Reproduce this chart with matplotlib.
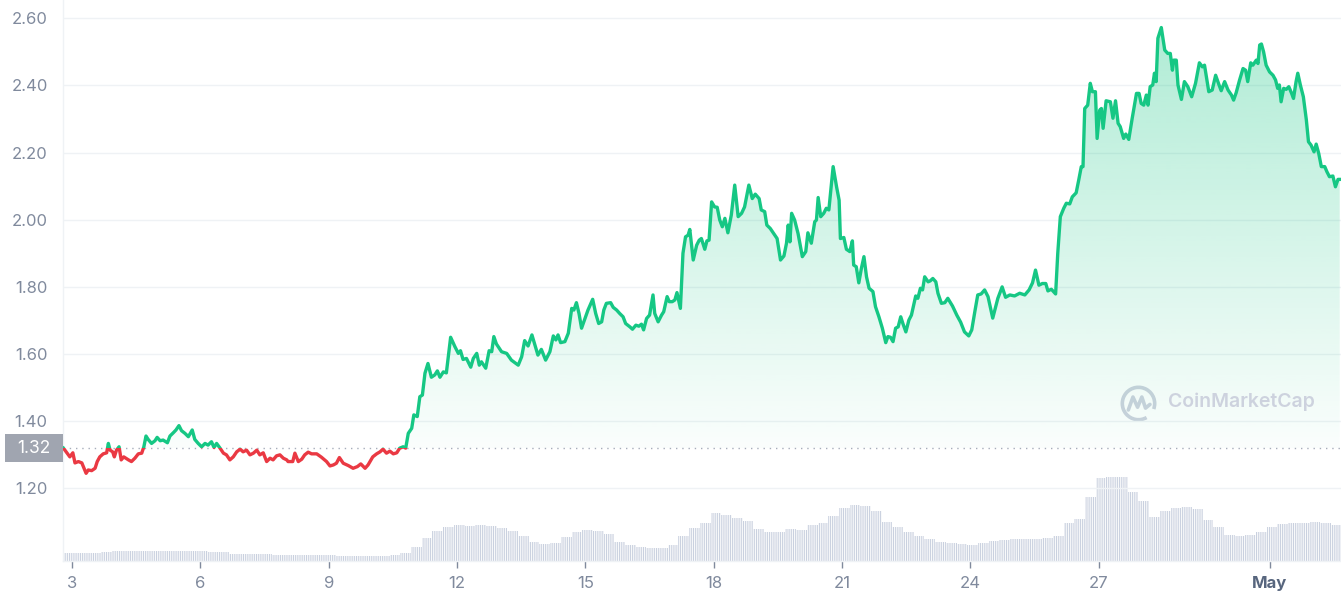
import numpy as np
import matplotlib
matplotlib.use("Agg")
import matplotlib.pyplot as plt
from matplotlib.colors import to_rgb
from matplotlib.patches import Rectangle, Arc
from matplotlib.transforms import blended_transform_factory

plt.rcParams['font.family'] = ['Inter', 'DejaVu Sans']
plt.rcParams['hatch.linewidth'] = 0.7

# price in USD, x = day counted from April 1 (31 = May 1)
days = [
    2.80, 2.88, 2.95, 3.02, 3.07, 3.15, 3.23, 3.33, 3.38, 3.46,
    3.54, 3.59, 3.65, 3.73, 3.81, 3.85, 3.89, 3.95, 3.99, 4.04,
    4.10, 4.15, 4.21, 4.32, 4.39, 4.47, 4.55, 4.63, 4.68, 4.73,
    4.78, 4.86, 4.94, 4.99, 5.06, 5.13, 5.23, 5.29, 5.37, 5.43,
    5.50, 5.56, 5.64, 5.72, 5.81, 5.87, 5.95, 6.03, 6.11, 6.18,
    6.26, 6.32, 6.38, 6.46, 6.54, 6.61, 6.69, 6.77, 6.85, 6.93,
    7.00, 7.08, 7.16, 7.24, 7.32, 7.39, 7.47, 7.55, 7.63, 7.70,
    7.78, 7.86, 7.94, 8.02, 8.05, 8.16, 8.21, 8.29, 8.37, 8.44,
    8.52, 8.60, 8.72, 8.83, 8.95, 9.03, 9.11, 9.18, 9.25, 9.34,
    9.46, 9.57, 9.67, 9.75, 9.85, 9.92, 10.03, 10.12, 10.20, 10.27,
    10.35, 10.43, 10.51, 10.59, 10.66, 10.74, 10.80, 10.86, 10.94, 10.99,
    11.07, 11.13, 11.19, 11.25, 11.32, 11.40, 11.48, 11.54, 11.60, 11.68,
    11.75, 11.85, 11.95, 12.03, 12.08, 12.14, 12.22, 12.32, 12.38, 12.46,
    12.52, 12.57, 12.67, 12.75, 12.81, 12.86, 12.92, 13.04, 13.16, 13.27,
    13.43, 13.51, 13.58, 13.66, 13.75, 13.82, 13.89, 13.97, 14.07, 14.17,
    14.25, 14.31, 14.36, 14.42, 14.52, 14.60, 14.68, 14.73, 14.79, 14.85,
    14.91, 14.99, 15.06, 15.17, 15.24, 15.31, 15.38, 15.43, 15.49, 15.59,
    15.65, 15.73, 15.80, 15.88, 15.94, 16.04, 16.10, 16.18, 16.25, 16.31,
    16.36, 16.43, 16.50, 16.58, 16.62, 16.70, 16.78, 16.83, 16.91, 16.96,
    17.03, 17.09, 17.14, 17.22, 17.28, 17.34, 17.40, 17.44, 17.52, 17.60,
    17.66, 17.71, 17.79, 17.84, 17.89, 17.95, 18.02, 18.08, 18.14, 18.20,
    18.26, 18.33, 18.41, 18.49, 18.57, 18.65, 18.72, 18.82, 18.90, 18.97,
    19.06, 19.11, 19.19, 19.24, 19.32, 19.40, 19.48, 19.56, 19.64, 19.70,
    19.74, 19.78, 19.82, 19.89, 19.97, 20.07, 20.15, 20.20, 20.28, 20.36,
    20.40, 20.44, 20.50, 20.57, 20.63, 20.69, 20.79, 20.87, 20.93, 20.96,
    21.04, 21.10, 21.18, 21.24, 21.27, 21.33, 21.39, 21.45, 21.51, 21.57,
    21.63, 21.72, 21.78, 21.86, 21.94, 22.02, 22.07, 22.13, 22.19, 22.25,
    22.31, 22.37, 22.42, 22.49, 22.56, 22.62, 22.72, 22.77, 22.83, 22.88,
    22.93, 23.01, 23.06, 23.12, 23.19, 23.24, 23.32, 23.40, 23.47, 23.58,
    23.68, 23.77, 23.86, 23.96, 24.03, 24.10, 24.17, 24.25, 24.33, 24.41,
    24.52, 24.64, 24.74, 24.82, 24.92, 25.03, 25.15, 25.27, 25.37, 25.45,
    25.52, 25.60, 25.68, 25.76, 25.81, 25.89, 25.99, 26.04, 26.10, 26.18,
    26.24, 26.32, 26.38, 26.47, 26.53, 26.59, 26.63, 26.67, 26.74, 26.80,
    26.85, 26.92, 26.96, 27.02, 27.06, 27.10, 27.17, 27.27, 27.33, 27.39,
    27.45, 27.50, 27.58, 27.63, 27.70, 27.78, 27.88, 27.94, 27.99, 28.05,
    28.11, 28.15, 28.20, 28.26, 28.30, 28.34, 28.38, 28.46, 28.54, 28.61,
    28.67, 28.72, 28.75, 28.81, 28.85, 28.93, 29.00, 29.08, 29.17, 29.26,
    29.35, 29.42, 29.47, 29.57, 29.65, 29.73, 29.81, 29.86, 29.94, 30.02,
    30.10, 30.15, 30.21, 30.29, 30.37, 30.43, 30.48, 30.55, 30.60, 30.68,
    30.72, 30.76, 30.80, 30.85, 30.91, 30.99, 31.07, 31.13, 31.18, 31.22,
    31.26, 31.32, 31.38, 31.44, 31.50, 31.55, 31.61, 31.65, 31.71, 31.78,
    31.85, 31.90, 31.96, 32.03, 32.08, 32.14, 32.20, 32.28, 32.33, 32.39,
    32.47, 32.53, 32.59, 32.63,
]
prices = [
    1.320, 1.306, 1.294, 1.306, 1.276, 1.280, 1.276, 1.245, 1.255, 1.253,
    1.260, 1.280, 1.294, 1.303, 1.306, 1.334, 1.314, 1.309, 1.294, 1.314,
    1.324, 1.285, 1.294, 1.285, 1.280, 1.290, 1.303, 1.305, 1.324, 1.356,
    1.346, 1.334, 1.342, 1.352, 1.342, 1.344, 1.336, 1.356, 1.366, 1.374,
    1.387, 1.372, 1.364, 1.354, 1.374, 1.346, 1.334, 1.324, 1.334, 1.329,
    1.339, 1.322, 1.334, 1.320, 1.305, 1.300, 1.285, 1.294, 1.309, 1.317,
    1.309, 1.314, 1.300, 1.305, 1.314, 1.300, 1.306, 1.280, 1.290, 1.285,
    1.297, 1.300, 1.290, 1.285, 1.280, 1.280, 1.305, 1.280, 1.287, 1.300,
    1.308, 1.303, 1.303, 1.293, 1.280, 1.267, 1.270, 1.275, 1.292, 1.275,
    1.268, 1.260, 1.265, 1.273, 1.260, 1.270, 1.294, 1.303, 1.309, 1.317,
    1.305, 1.311, 1.303, 1.306, 1.320, 1.324, 1.320, 1.364, 1.379, 1.419,
    1.414, 1.473, 1.478, 1.543, 1.572, 1.531, 1.538, 1.550, 1.531, 1.547,
    1.544, 1.650, 1.622, 1.602, 1.610, 1.584, 1.587, 1.561, 1.587, 1.602,
    1.567, 1.577, 1.558, 1.610, 1.607, 1.652, 1.630, 1.607, 1.602, 1.582,
    1.567, 1.592, 1.640, 1.624, 1.657, 1.627, 1.597, 1.614, 1.582, 1.607,
    1.654, 1.642, 1.657, 1.634, 1.637, 1.662, 1.736, 1.731, 1.753, 1.721,
    1.677, 1.706, 1.731, 1.763, 1.721, 1.691, 1.696, 1.731, 1.751, 1.753,
    1.739, 1.731, 1.721, 1.711, 1.691, 1.681, 1.674, 1.686, 1.683, 1.689,
    1.672, 1.706, 1.716, 1.776, 1.721, 1.696, 1.716, 1.726, 1.771, 1.756,
    1.756, 1.761, 1.783, 1.736, 1.900, 1.949, 1.954, 1.971, 1.880, 1.924,
    1.939, 1.944, 1.912, 1.937, 1.939, 2.053, 2.038, 2.037, 1.999, 1.979,
    2.004, 1.961, 2.014, 2.103, 2.009, 2.019, 2.038, 2.103, 2.063, 2.076,
    2.063, 2.029, 2.024, 1.984, 1.974, 1.959, 1.944, 1.880, 1.892, 1.930,
    1.984, 1.934, 2.019, 1.999, 1.959, 1.890, 1.905, 1.961, 1.930, 1.994,
    1.999, 2.066, 2.009, 2.019, 2.034, 2.029, 2.158, 2.098, 2.058, 1.944,
    1.947, 1.912, 1.905, 1.937, 1.865, 1.860, 1.812, 1.855, 1.890, 1.830,
    1.796, 1.786, 1.741, 1.711, 1.677, 1.634, 1.652, 1.650, 1.637, 1.677,
    1.681, 1.711, 1.691, 1.666, 1.701, 1.716, 1.773, 1.766, 1.796, 1.791,
    1.830, 1.815, 1.818, 1.825, 1.815, 1.781, 1.751, 1.753, 1.766, 1.743,
    1.716, 1.695, 1.666, 1.654, 1.672, 1.725, 1.776, 1.779, 1.791, 1.771,
    1.707, 1.766, 1.800, 1.769, 1.776, 1.773, 1.781, 1.776, 1.791, 1.812,
    1.850, 1.805, 1.810, 1.810, 1.788, 1.793, 1.779, 1.900, 2.009, 2.034,
    2.049, 2.047, 2.068, 2.080, 2.118, 2.158, 2.158, 2.331, 2.341, 2.406,
    2.381, 2.381, 2.242, 2.326, 2.331, 2.272, 2.354, 2.351, 2.302, 2.354,
    2.287, 2.277, 2.242, 2.255, 2.239, 2.302, 2.376, 2.376, 2.346, 2.341,
    2.371, 2.341, 2.396, 2.401, 2.436, 2.411, 2.540, 2.572, 2.505, 2.495,
    2.495, 2.445, 2.475, 2.475, 2.401, 2.358, 2.411, 2.396, 2.366, 2.406,
    2.467, 2.455, 2.460, 2.381, 2.386, 2.430, 2.401, 2.384, 2.411, 2.386,
    2.371, 2.356, 2.378, 2.416, 2.450, 2.445, 2.411, 2.467, 2.460, 2.475,
    2.465, 2.520, 2.523, 2.500, 2.460, 2.440, 2.430, 2.416, 2.391, 2.401,
    2.351, 2.391, 2.388, 2.396, 2.378, 2.361, 2.411, 2.436, 2.401, 2.366,
    2.297, 2.232, 2.222, 2.202, 2.225, 2.197, 2.158, 2.158, 2.143, 2.128,
    2.130, 2.098, 2.120, 2.120,
]

# 24h volume (relative units), one value every 6 hours from day 2.8
volume = [
    7.5, 7.5, 7.5, 8, 8.5, 9.5, 10, 10, 10, 10,
    10, 10, 10, 9.5, 9, 8.5, 7, 6.5, 6.5, 6.5,
    6, 6, 6, 6, 6, 5.5, 5, 5, 5, 5,
    5, 6, 8, 14, 23, 30, 34, 36, 35, 36,
    35, 33, 30, 25, 19, 17, 18, 24, 29, 31,
    30, 27, 19, 16, 14, 12.7, 13.4, 16, 25, 33,
    38, 48, 46, 42.7, 40, 31.7, 29, 28.5, 31.5, 31,
    36, 38, 45, 53, 55.5, 55, 50, 39, 34, 29,
    25, 22, 19, 18, 17, 16, 18, 19.5, 21, 22,
    22, 22, 23, 25, 38, 42, 64, 83, 83.6, 83.6,
    69, 60, 44, 50, 53, 54, 52, 41, 33.7, 26,
    25.3, 25.5, 29, 33.7, 37, 37.5, 38, 38.5, 37.5, 36,
]
vol_days = 2.8 + 0.25 * np.arange(len(volume))

base = 1.32
tick_days = [3, 6, 9, 12, 15, 18, 21, 24, 27, 31]
tick_labels = ['3', '6', '9', '12', '15', '18', '21', '24', '27', 'May']
y_ticks = [1.20, 1.40, 1.60, 1.80, 2.00, 2.20, 2.40, 2.60]

GREEN = '#16c784'
RED = '#ea3943'
GREY = '#808a9d'
GRID = '#eff2f5'
VOL = '#c8cfde'

x0, x1 = 2.79, 32.66
y0, y1 = 0.984, 2.654

fig = plt.figure(figsize=(13.41, 6.0), dpi=100)
ax = fig.add_axes([63 / 1341, 39 / 600, 1278 / 1341, 561 / 600])
ax_v = ax.twinx()
ax.set_zorder(ax_v.get_zorder() + 1)
ax.patch.set_visible(False)

# volume bars
ax_v.bar(vol_days, volume, width=0.25, facecolor='none', edgecolor=VOL,
         linewidth=0, hatch='|' * 9)
ax_v.set_ylim(0, max(volume) * 6.7)
ax_v.set_yticks([])
for s in ax_v.spines.values():
    s.set_visible(False)

# gradient fill under the green part
d = np.array(days)
p = np.array(prices)
fill = ax.fill_between(d, np.maximum(p, base), base, color='none', lw=0)
n = 256
rgba = np.zeros((n, 1, 4))
rgba[..., :3] = to_rgb(GREEN)
rgba[:, 0, 3] = np.linspace(0.36, 0.02, n)
im = ax.imshow(rgba, extent=[x0, x1, base, y1], aspect='auto',
               origin='upper', zorder=1, interpolation='bilinear')
im.set_clip_path(fill.get_paths()[0], transform=ax.transData)

# price line: green above the open price, red below
above = Rectangle((x0, base), x1 - x0, 5, transform=ax.transData)
below = Rectangle((x0, base - 5), x1 - x0, 5, transform=ax.transData)
lg, = ax.plot(d, p, color=GREEN, lw=2.4, solid_joinstyle='round', zorder=3)
lr, = ax.plot(d, p, color=RED, lw=2.4, solid_joinstyle='round', zorder=3)
lg.set_clip_path(above)
lr.set_clip_path(below)

ax.axhline(base, color='#a6adba', lw=1, ls=(0, (1, 3.5)), zorder=2)

ax.set_xlim(x0, x1)
ax.set_ylim(y0, y1)

ax.set_yticks(y_ticks)
ax.set_yticklabels([f'{v:.2f}' for v in y_ticks])
ax.tick_params(axis='y', length=0, pad=11, labelsize=12, labelcolor=GREY)
ax.yaxis.grid(True, color=GRID, lw=1)
ax.set_axisbelow(True)

ax.set_xticks(tick_days)
ax.set_xticklabels(tick_labels)
ax.tick_params(axis='x', length=5, width=1, color=GREY, pad=6,
               labelsize=12, labelcolor=GREY)
may = ax.get_xticklabels()[-1]
may.set_fontweight('bold')
may.set_color('#58667e')

for k in ['top', 'right']:
    ax.spines[k].set_visible(False)
for k in ['left', 'bottom']:
    ax.spines[k].set_color(GRID)
    ax.spines[k].set_linewidth(1)

# open price marker on the y axis
tr = blended_transform_factory(fig.transFigure, ax.transData)
ax.add_patch(Rectangle((5 / 1341, base - 0.042), 58 / 1341, 0.084,
                       transform=tr, facecolor='#a0a5b0', edgecolor='none',
                       clip_on=False, zorder=5))
ax.text(34 / 1341, base, f'{base:.2f}', transform=tr, ha='center',
        va='center', fontsize=12.5, color='white', zorder=6)

# watermark
ax.text(0.8646, 0.2834, 'CoinMarketCap', transform=ax.transAxes,
        fontsize=14, fontweight='semibold', color='#cdd2de', va='center',
        ha='left', zorder=2)
logo = fig.add_axes([1120 / 1341, 178 / 600, 37 / 1341, 37 / 600])
logo.set_xlim(-1, 1)
logo.set_ylim(-1, 1)
logo.axis('off')
logo.add_patch(Arc((0, 0), 1.75, 1.75, theta1=-20, theta2=300,
                   color='#cdd2de', lw=2.6))
logo.plot([-0.55, -0.3, -0.05, 0.18, 0.38, 0.62],
          [-0.35, 0.35, -0.2, 0.35, -0.25, -0.05],
          color='#cdd2de', lw=2.6, solid_joinstyle='round',
          solid_capstyle='round')

fig.savefig('out.png', dpi=100)
